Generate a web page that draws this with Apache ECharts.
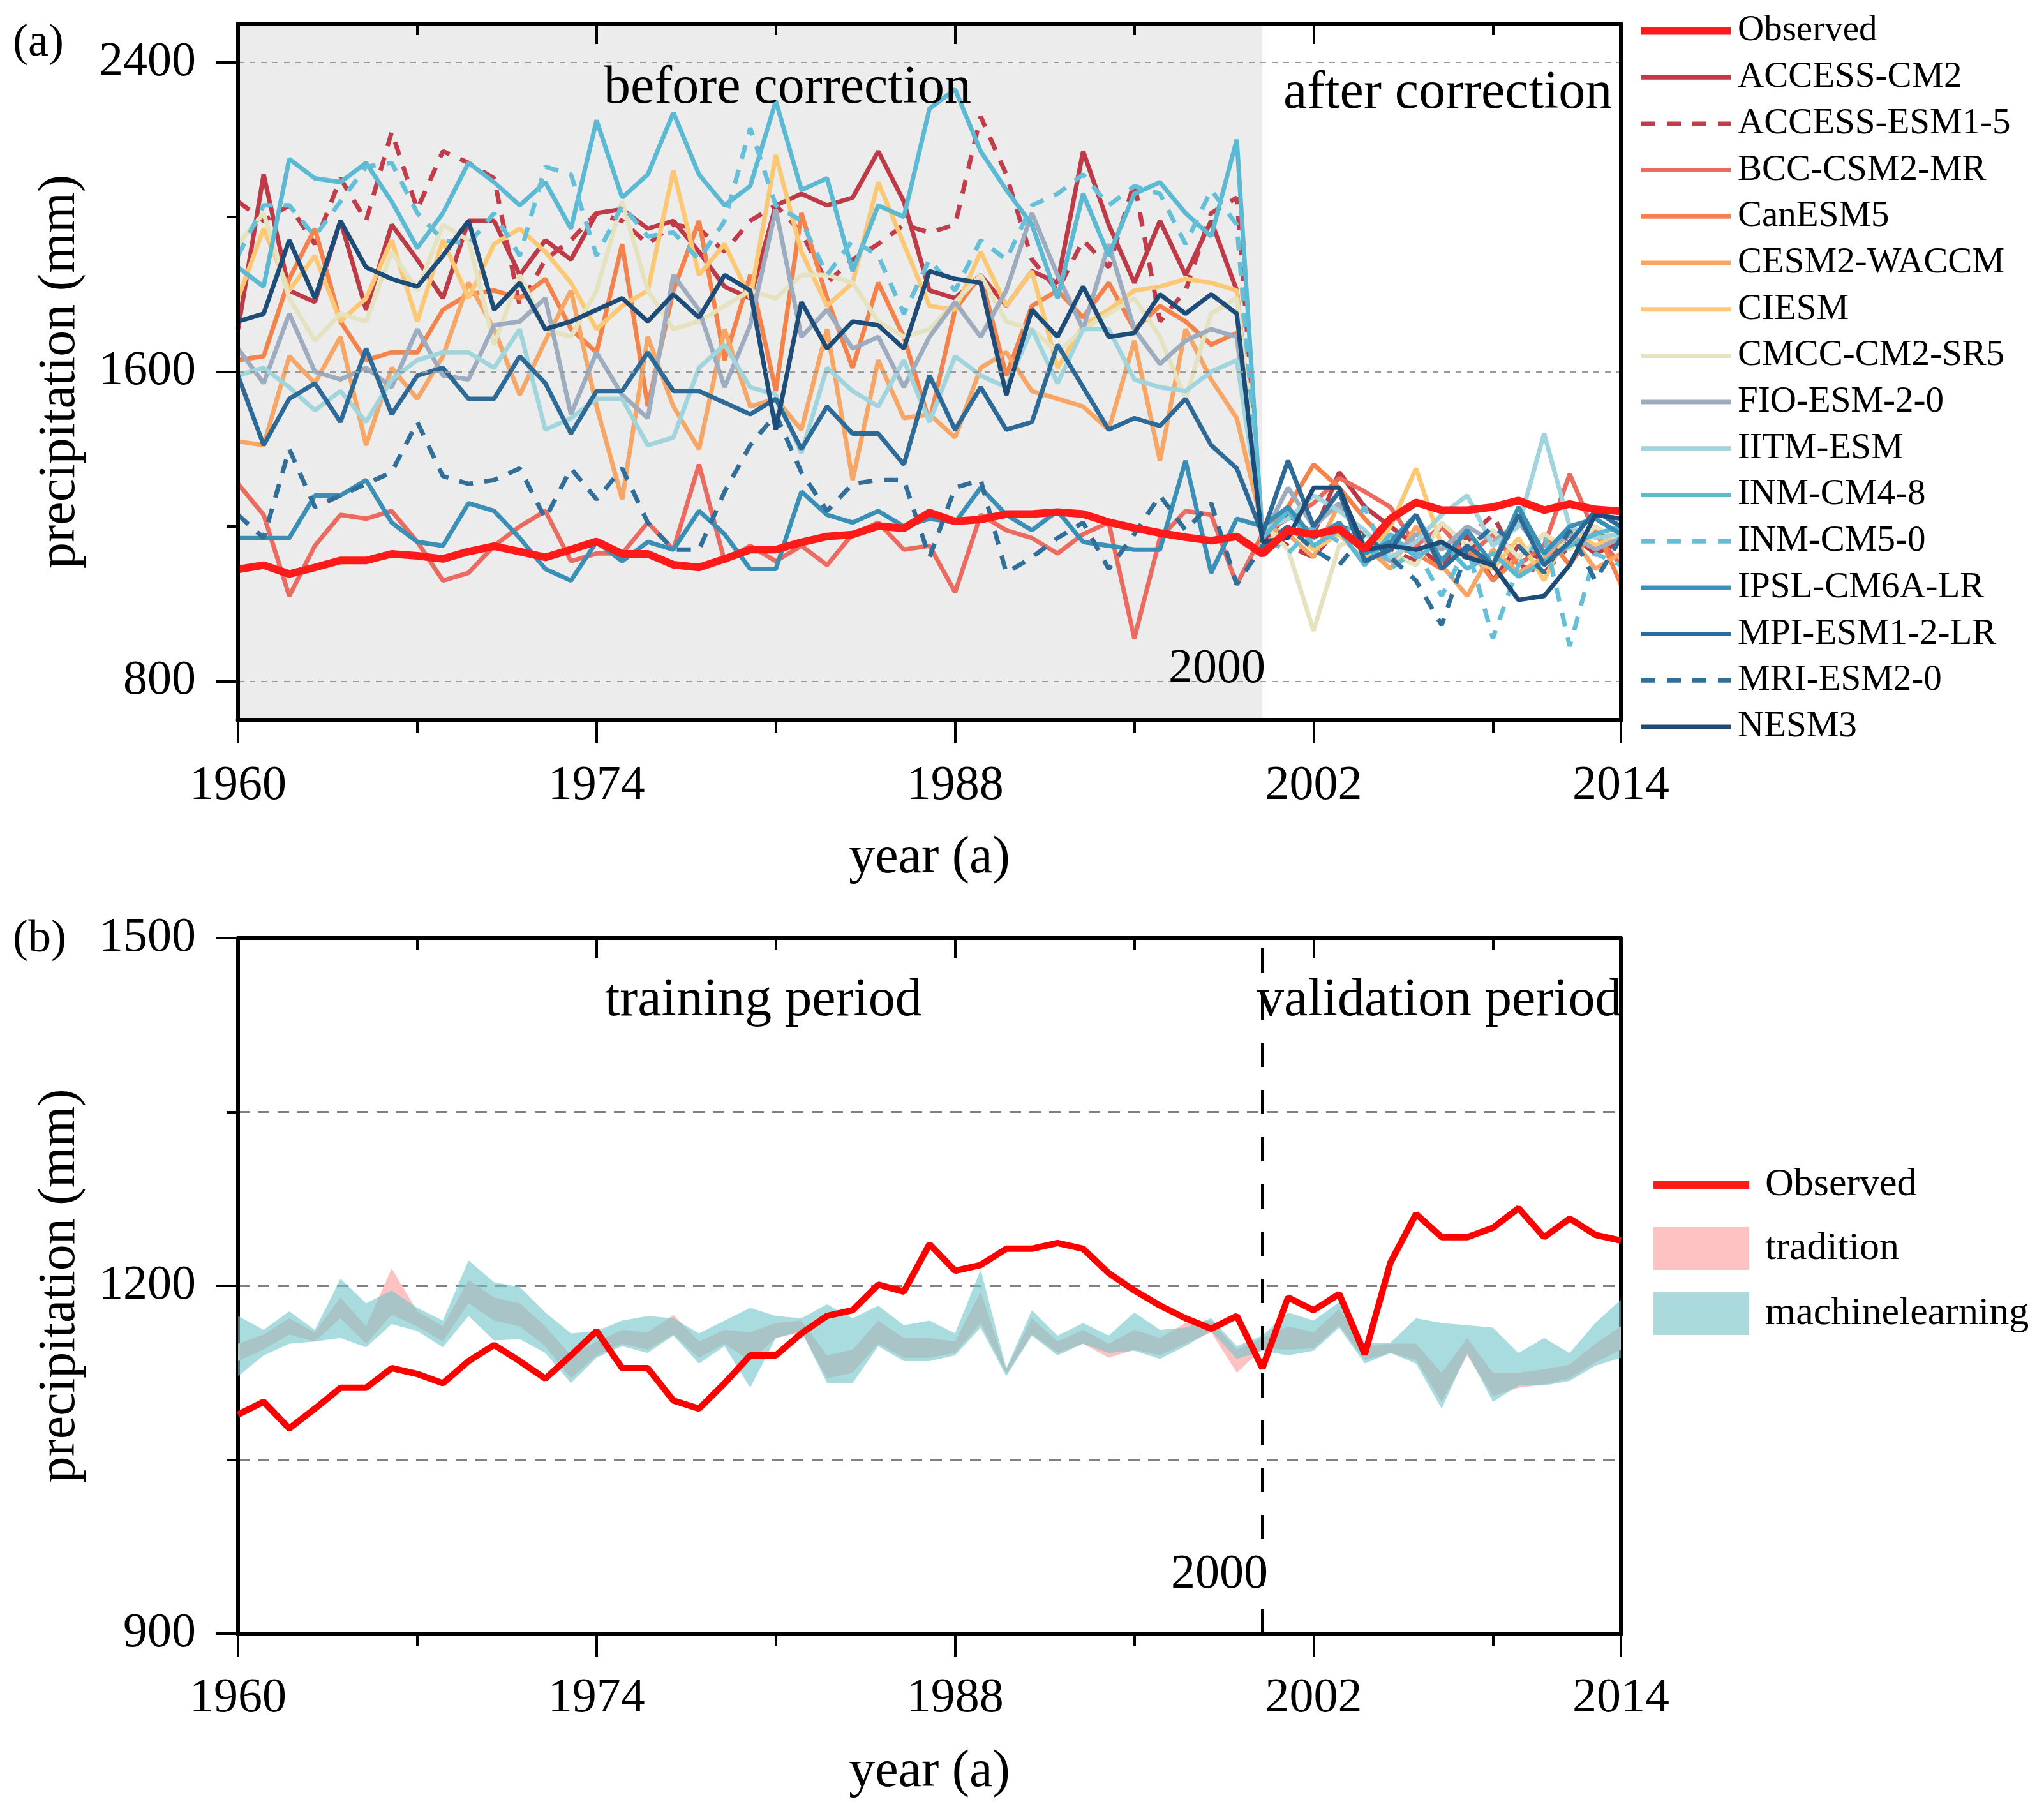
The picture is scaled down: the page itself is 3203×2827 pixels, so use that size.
<!DOCTYPE html>
<html>
<head>
<meta charset="utf-8">
<script src="https://cdn.jsdelivr.net/npm/echarts@6/dist/echarts.min.js"></script>
<style>html,body{margin:0;padding:0;background:#fff;}#c{width:3203px;height:2827px;}</style>
</head>
<body>
<div id="c"></div>
<script>
// ---------------- data ----------------
const years = [1960,1961,1962,1963,1964,1965,1966,1967,1968,1969,1970,1971,1972,1973,1974,1975,1976,1977,1978,1979,
1980,1981,1982,1983,1984,1985,1986,1987,1988,1989,1990,1991,1992,1993,1994,1995,1996,1997,1998,1999,
2000,2001,2002,2003,2004,2005,2006,2007,2008,2009,2010,2011,2012,2013,2014];

const observed = [1089,1100,1077,1094,1112,1112,1129,1124,1116,1135,1149,1135,1120,1140,1161,1129,1129,1101,1094,1116,
1140,1140,1159,1174,1179,1201,1195,1236,1213,1218,1232,1232,1237,1232,1211,1196,1183,1172,1163,1174,
1129,1190,1179,1193,1141,1220,1262,1242,1242,1250,1267,1242,1258,1244,1239];

const ACCESS_CM2 = [1710,2110,1810,1780,1990,1760,1980,1890,1790,1990,1990,1850,1940,1890,2010,2020,1970,1990,1910,1820,
1790,2030,2060,2030,2050,2170,2040,1810,1790,1850,1770,1860,1830,2170,1980,1830,1990,1850,1990,1810,
1160,1230,1180,1340,1250,1200,1150,1100,1180,1060,1150,1110,1180,1130,1160];
const ACCESS_ESM1_5 = [2040,1990,2030,1930,2100,1990,2220,2020,2170,2140,2100,1770,1890,1940,2010,1990,1930,1980,1970,1910,
1990,2030,1960,1830,1890,1930,1980,1960,1980,2260,2110,1890,1810,1940,1870,2090,1730,1810,2010,2050,
1190,1150,1120,1200,1180,1140,1110,1200,1170,1230,1100,1080,1150,1200,1140];
const BCC_CSM2_MR = [1310,1230,1020,1150,1230,1220,1240,1160,1060,1080,1150,1200,1240,1110,1130,1130,1210,1140,1360,1110,
1150,1110,1150,1100,1180,1210,1140,1150,1030,1230,1190,1170,1130,1180,1210,910,1170,1240,1230,1050,
1180,1220,1260,1325,1290,1250,1150,1200,1120,1180,1100,1150,1335,1180,1100];
const CanESM5 = [1630,1640,1840,1970,1730,1630,1650,1650,1760,1800,1810,1790,1840,1710,1650,1930,1510,1810,1990,1630,
1850,1550,2010,1790,1610,1830,1690,1470,1760,1850,1590,1770,1810,1740,1830,1710,1770,1730,1670,1700,
1180,1250,1360,1300,1220,1150,1130,1090,1150,1060,1120,1180,1100,1200,1050];
const CESM2_WACCM = [1420,1410,1640,1570,1690,1410,1610,1530,1640,1830,1710,1540,1680,1810,1510,1270,1690,1510,1400,1710,
1510,1530,1450,1710,1320,1630,1480,1490,1430,1610,1650,1550,1530,1510,1450,1680,1370,1710,1580,1480,
1200,1180,1120,1260,1150,1090,1200,1100,1020,1140,1080,1120,1180,1090,1130];
const CIESM = [1790,1970,1810,1900,1730,1790,1940,1730,1940,1790,1930,1970,1910,1830,1710,1770,1810,2120,1850,1930,
1790,2160,1910,1770,1830,2090,1930,1770,1760,1910,1770,1860,1610,1720,1760,1810,1820,1840,1830,1810,
1150,1200,1140,1180,1110,1200,1350,1150,1120,1090,1170,1060,1200,1150,1180];
const CMCC_CM2_SR5 = [1930,2010,1790,1680,1750,1730,1910,1810,1980,1940,1670,1850,1710,1690,1810,2040,1810,1710,1730,1770,
1810,1790,1850,1850,1830,1730,1690,1710,1780,1850,1730,1710,1650,1710,1750,1790,1690,1530,1750,1790,
1210,1140,930,1150,1180,1130,1100,1210,1150,1190,1120,1180,1140,1200,1160];
const FIO_ESM_2_0 = [1660,1570,1750,1600,1580,1610,1560,1710,1590,1580,1720,1730,1790,1490,1650,1540,1480,1850,1760,1560,
1720,2020,1690,1760,1660,1690,1560,1690,1780,1690,1810,2010,1850,1710,1930,1710,1620,1680,1710,1690,
1170,1300,1200,1260,1150,1110,1180,1140,1200,1160,1210,1130,1180,1140,1170];
const IITM_ESM = [1590,1610,1560,1500,1550,1470,1580,1630,1650,1650,1610,1710,1450,1480,1530,1530,1410,1430,1610,1670,
1560,1540,1390,1610,1550,1510,1630,1470,1640,1590,1560,1710,1570,1710,1710,1580,1560,1550,1600,1630,
1190,1220,1280,1240,1190,1120,1160,1230,1280,1150,1200,1440,1200,1170,1180];
const INM_CM4_8 = [1870,1820,2150,2100,2090,2140,2040,1920,2010,2140,2090,2030,2090,1970,2250,2050,2110,2270,2110,2030,
2080,2300,2070,2100,1860,2030,2000,2280,2330,2170,2070,1980,1790,2060,1900,2060,2090,2010,1950,2200,
1170,1240,1150,1190,1100,1180,1120,1160,1090,1130,1070,1110,1150,1180,1200];
const INM_CM5_0 = [1900,2030,2030,1950,2040,2130,2140,2010,1940,1930,2010,1900,2130,2110,1900,2030,1950,1960,1890,1990,
2230,2030,1990,1850,1940,1900,1750,1890,1810,1940,1890,2030,2060,2110,2030,2080,2060,1930,2070,1980,
1180,1130,1200,1160,1250,1090,1140,1020,1150,910,1100,1180,890,1130,1100];
const IPSL_CM6A_LR = [1170,1170,1170,1280,1280,1320,1210,1160,1150,1260,1240,1170,1090,1060,1160,1110,1160,1140,1240,1180,
1090,1090,1290,1230,1210,1240,1200,1220,1210,1300,1230,1190,1240,1160,1150,1140,1140,1370,1080,1220,
1200,1250,1170,1210,1130,1160,1230,1110,1190,1100,1250,1130,1200,1220,1180];
const MPI_ESM1_2_LR = [1590,1410,1530,1570,1470,1660,1490,1590,1610,1530,1530,1640,1570,1440,1550,1550,1650,1550,1550,1520,
1490,1530,1400,1510,1440,1440,1360,1590,1450,1560,1450,1470,1670,1560,1450,1480,1460,1530,1410,1350,
1180,1370,1200,1290,1110,1140,1230,1090,1150,1100,1230,1100,1160,1240,1200];
const MRI_ESM2_0 = [1230,1170,1400,1250,1280,1310,1340,1470,1330,1310,1320,1350,1220,1350,1270,1350,1210,1140,1140,1290,
1410,1490,1340,1240,1310,1320,1320,1120,1300,1320,1080,1120,1170,1210,1090,1180,1280,1190,1260,1050,
1150,1200,1140,1100,1180,1120,1060,945,1140,1200,1150,1080,1190,1060,1170];
const NESM3 = [1730,1750,1940,1790,1990,1870,1840,1820,1900,1990,1760,1830,1710,1730,1760,1790,1730,1800,1740,1850,
1810,1450,1780,1660,1730,1720,1660,1860,1840,1830,1540,1760,1690,1820,1690,1700,1800,1750,1800,1750,
1160,1170,1300,1300,1140,1150,1140,1160,1120,1100,1010,1020,1100,1230,1220];

// panel (b) bands
const mlUpper = [1174,1162,1178,1162,1206,1185,1196,1181,1170,1222,1203,1199,1177,1159,1161,1170,1174,1172,1159,1170,
1181,1174,1172,1184,1172,1183,1166,1170,1159,1214,1129,1179,1157,1168,1157,1177,1162,1164,1172,1148,
1157,1177,1170,1186,1151,1151,1172,1168,1166,1164,1142,1155,1142,1168,1188];
const mlLower = [1122,1140,1150,1152,1155,1147,1167,1161,1147,1174,1153,1154,1142,1116,1138,1148,1142,1157,1133,1148,
1112,1155,1161,1116,1116,1148,1135,1135,1140,1164,1122,1157,1140,1150,1142,1144,1137,1148,1161,1137,
1144,1140,1144,1164,1133,1142,1133,1094,1142,1100,1114,1114,1118,1131,1138];
const tradUpper = [1150,1158,1172,1160,1190,1165,1215,1178,1165,1205,1190,1185,1165,1140,1152,1162,1160,1175,1152,1162,
1160,1168,1170,1140,1145,1170,1155,1155,1152,1195,1128,1172,1152,1162,1150,1162,1155,1168,1170,1145,
1155,1165,1160,1180,1148,1150,1150,1125,1155,1125,1125,1128,1132,1150,1165];
const tradLower = [1135,1145,1158,1152,1172,1150,1175,1165,1152,1185,1170,1165,1148,1120,1140,1150,1145,1158,1138,1150,
1135,1155,1160,1120,1125,1150,1138,1138,1142,1168,1124,1158,1142,1150,1138,1145,1140,1150,1160,1125,
1146,1145,1146,1166,1136,1142,1136,1100,1140,1105,1112,1115,1120,1134,1145];

// axis tick values
const xMajorInterval = 14;
const yTicksA = [800, 1600, 2400];
const yMinorTicksA = [1200, 2000];
const yGridA = [800, 1600, 2400];

// ---------------- styles ----------------
const F = '"Liberation Serif","Times New Roman",serif';
const models = [
  ['ACCESS-CM2', ACCESS_CM2, '#bf3a47', 'solid'],
  ['ACCESS-ESM1-5', ACCESS_ESM1_5, '#c23c4a', 'dashed'],
  ['BCC-CSM2-MR', BCC_CSM2_MR, '#ec6b61', 'solid'],
  ['CanESM5', CanESM5, '#f4824a', 'solid'],
  ['CESM2-WACCM', CESM2_WACCM, '#f7a666', 'solid'],
  ['CIESM', CIESM, '#fcc874', 'solid'],
  ['CMCC-CM2-SR5', CMCC_CM2_SR5, '#e5e2bf', 'solid'],
  ['FIO-ESM-2-0', FIO_ESM_2_0, '#9eacbf', 'solid'],
  ['IITM-ESM', IITM_ESM, '#a1d5de', 'solid'],
  ['INM-CM4-8', INM_CM4_8, '#5bb9d4', 'solid'],
  ['INM-CM5-0', INM_CM5_0, '#66bfd9', 'dashed'],
  ['IPSL-CM6A-LR', IPSL_CM6A_LR, '#3a8fb6', 'solid'],
  ['MPI-ESM1-2-LR', MPI_ESM1_2_LR, '#2d6a98', 'solid'],
  ['MRI-ESM2-0', MRI_ESM2_0, '#316f9b', 'dashed'],
  ['NESM3', NESM3, '#1d4c79', 'solid']
];

const pairs = arr => years.map((y, i) => [y, arr[i]]);

const GA = {left: 373, top: 37, width: 2167, height: 1091};
const GB = {left: 373, top: 1470, width: 2167, height: 1090};

const chart = echarts.init(document.getElementById('c'), null, {renderer: 'canvas', width: 3203, height: 2827});

const axisLineBlack = w => ({show: true, lineStyle: {color: '#000', width: w}});
const plain = v => String(v);
const labelStyle = {fontFamily: F, fontSize: 76, color: '#000', formatter: plain};

function xAxes(gridIndex, labelMargin) {
  return [
    {
      gridIndex, type: 'value', position: 'bottom', min: 1960, max: 2014, interval: xMajorInterval, z: 10,
      axisLine: axisLineBlack(7),
      axisTick: {show: true, length: 36, lineStyle: {color: '#000', width: 4}},
      minorTick: {show: true, splitNumber: 2, length: 20, lineStyle: {color: '#000', width: 4}},
      axisLabel: Object.assign({margin: labelMargin}, labelStyle),
      splitLine: {show: false},
      name: 'year (a)', nameLocation: 'middle', nameGap: 176,
      nameTextStyle: {fontFamily: F, fontSize: 82, color: '#000'}
    },
    {
      gridIndex, type: 'value', position: 'top', min: 1960, max: 2014, interval: xMajorInterval, z: 10,
      axisLine: axisLineBlack(6),
      axisTick: {show: true, inside: true, length: 32, lineStyle: {color: '#000', width: 4}},
      minorTick: {show: true, splitNumber: 2, length: 18, lineStyle: {color: '#000', width: 4}},
      axisLabel: {show: false}, splitLine: {show: false}
    }
  ];
}

function bandSeries(name, lo, hi, fill, z) {
  return {
    name, type: 'custom', xAxisIndex: 2, yAxisIndex: 3, z, silent: true,
    data: years.map((y, i) => [y, lo[i], hi[i]]),
    encode: {x: 0, y: [1, 2]},
    renderItem: (params, api) => {
      if (params.dataIndex !== 0) return {type: 'group', children: []};
      const pts = [];
      for (let i = 0; i < years.length; i++) pts.push(api.coord([years[i], hi[i]]));
      for (let i = years.length - 1; i >= 0; i--) pts.push(api.coord([years[i], lo[i]]));
      return {type: 'polygon', shape: {points: pts}, style: {fill: fill}};
    }
  };
}

const TXT = (x, y, text, size, align) => ({
  type: 'text', x, y, z: 100, zlevel: 0,
  style: {text, font: size + 'px ' + F, fill: '#000', align: align || 'left', verticalAlign: 'middle'}
});

const option = {
  animation: false,
  backgroundColor: '#fff',
  grid: [GA, GB],
  xAxis: [...xAxes(0, 66), ...xAxes(1, 64)],
  yAxis: [
    { // 0: panel a left major
      gridIndex: 0, type: 'value', position: 'left', min: 700, max: 2500, z: 10,
      axisLine: axisLineBlack(6),
      axisTick: {show: true, length: 35, customValues: yTicksA, lineStyle: {color: '#000', width: 4}},
      axisLabel: Object.assign({margin: 66, customValues: yTicksA}, labelStyle),
      splitLine: {show: false},
      name: 'precipitation (mm)', nameLocation: 'middle', nameGap: 238, nameRotate: 90,
      nameTextStyle: {fontFamily: F, fontSize: 82, color: '#000'}
    },
    { // 1: panel a left minor ticks
      gridIndex: 0, type: 'value', position: 'left', min: 700, max: 2500, z: 10,
      axisLine: {show: false},
      axisTick: {show: true, length: 18, customValues: yMinorTicksA, lineStyle: {color: '#000', width: 4}},
      axisLabel: {show: false, customValues: yMinorTicksA}, splitLine: {show: false}
    },
    { // 2: panel a right border
      gridIndex: 0, type: 'value', position: 'right', min: 700, max: 2500, z: 10,
      axisLine: axisLineBlack(6), axisTick: {show: false}, axisLabel: {show: false}, splitLine: {show: false}
    },
    { // 3: panel b left
      gridIndex: 1, type: 'value', position: 'left', min: 900, max: 1500, interval: 300,
      axisLine: axisLineBlack(6),
      axisTick: {show: true, length: 35, lineStyle: {color: '#000', width: 4}},
      minorTick: {show: true, splitNumber: 2, length: 18, lineStyle: {color: '#000', width: 4}},
      axisLabel: Object.assign({margin: 66}, labelStyle),
      splitLine: {show: true, lineStyle: {color: '#808080', width: 3, type: [18, 13]}},
      minorSplitLine: {show: true, lineStyle: {color: '#808080', width: 3, type: [18, 13]}},
      name: 'precipitation (mm)', nameLocation: 'middle', nameGap: 238, nameRotate: 90,
      nameTextStyle: {fontFamily: F, fontSize: 82, color: '#000'}
    },
    { // 4: panel b right border
      gridIndex: 1, type: 'value', position: 'right', min: 900, max: 1500,
      axisLine: axisLineBlack(6), axisTick: {show: false}, axisLabel: {show: false}, splitLine: {show: false}
    }
  ],
  legend: [
    {
      orient: 'vertical', left: 2566, top: 20, itemWidth: 140, itemHeight: 14, itemGap: 15.7, padding: 0,
      selectedMode: false,
      itemStyle: {opacity: 0},
      lineStyle: {width: 7},
      textStyle: {fontFamily: F, fontSize: 57, color: '#000', padding: [0, 0, 0, 6]},
      data: [{name: 'Observed', lineStyle: {width: 12}}, ...models.map(m => m[0])]
    },
    {
      orient: 'vertical', left: 2585, top: 1826, itemWidth: 150, itemHeight: 67, itemGap: 35, padding: 0,
      selectedMode: false,
      textStyle: {fontFamily: F, fontSize: 62, color: '#000', padding: [0, 0, 0, 20]},
      data: [
        {name: 'Observed', itemStyle: {opacity: 0}, lineStyle: {width: 12}},
        {name: 'tradition', icon: 'rect', itemStyle: {color: '#ffc2c2', opacity: 1}},
        {name: 'machinelearning', icon: 'rect', itemStyle: {color: '#abdadd', opacity: 1}}
      ]
    }
  ],
  graphic: {elements: [
    TXT(20, 68, '(a)', 72),
    TXT(20, 1472, '(b)', 72),
    TXT(946, 139, 'before correction', 84),
    TXT(2011, 147, 'after correction', 84),
    TXT(1983, 1049, '2000', 76, 'right'),
    TXT(948, 1569, 'training period', 84),
    TXT(1970, 1569, 'validation period', 84),
    TXT(1987, 2468, '2000', 76, 'right')
  ]},
  series: []
};

// panel a: shading and grid lines
option.series.push({
  name: '_shade', type: 'line', xAxisIndex: 0, yAxisIndex: 0, data: pairs(observed), symbol: 'none', silent: true, z: 0,
  lineStyle: {opacity: 0},
  markArea: {silent: true, itemStyle: {color: '#ececec'}, data: [[{xAxis: 1960}, {xAxis: 2000}]]}
});
option.series.push({
  name: '_gridA', type: 'line', xAxisIndex: 0, yAxisIndex: 0, data: pairs(observed), symbol: 'none', silent: true, z: 1,
  lineStyle: {opacity: 0},
  markLine: {silent: true, symbol: ['none', 'none'], label: {show: false},
    lineStyle: {color: '#9a9a9a', width: 2, type: [9, 9]},
    data: yGridA.map(v => ({yAxis: v}))}
});
models.forEach(([name, arr, color, type]) => {
  option.series.push({
    name, type: 'line', xAxisIndex: 0, yAxisIndex: 0, data: pairs(arr), symbol: 'none', z: 3,
    color, lineStyle: {color, width: 7, type: type === 'dashed' ? [22, 18] : 'solid'}
  });
});
option.series.push({
  name: 'Observed', type: 'line', xAxisIndex: 0, yAxisIndex: 0, data: pairs(observed), symbol: 'none', z: 4,
  color: '#ff1a1a', lineStyle: {color: '#ff1a1a', width: 12}
});

// panel b
option.series.push(bandSeries('tradition', tradLower, tradUpper, '#ffc2c2', 2));
option.series.push(bandSeries('machinelearning', mlLower, mlUpper, 'rgba(112,196,200,0.6)', 3));
option.series.push({
  name: '_vline', type: 'line', xAxisIndex: 2, yAxisIndex: 3, data: pairs(observed), symbol: 'none', silent: true, z: 4,
  lineStyle: {opacity: 0},
  markLine: {silent: true, symbol: ['none', 'none'], label: {show: false},
    lineStyle: {color: '#000', width: 5, type: [38, 36]},
    data: [{xAxis: 2000}]}
});
option.series.push({
  name: 'Observed', type: 'line', xAxisIndex: 2, yAxisIndex: 3, data: pairs(observed), symbol: 'none', z: 5,
  color: '#ff1a1a', lineStyle: {color: '#ff0000', width: 10}
});

chart.setOption(option);
</script>
</body>
</html>
